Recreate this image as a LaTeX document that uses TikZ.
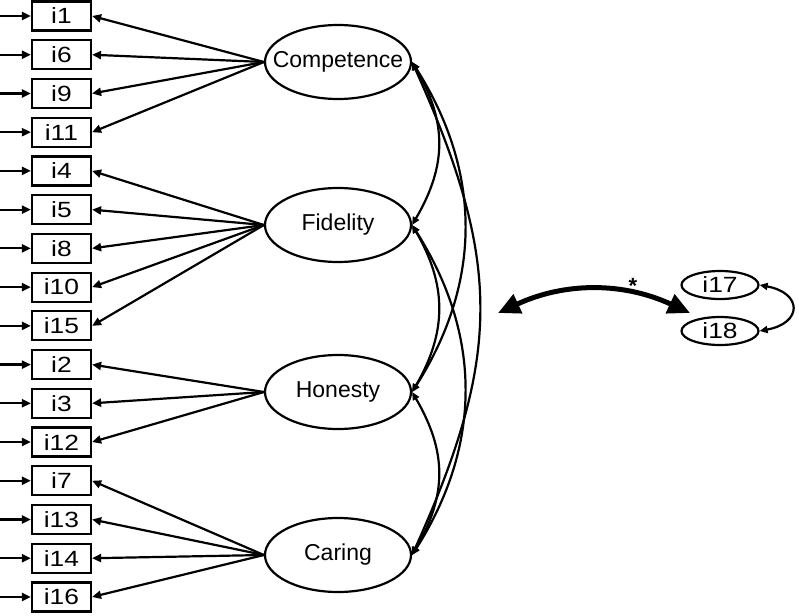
\documentclass[tikz,border=0pt]{standalone}
\usepackage{fontspec}
\setmainfont{Liberation Sans}
\newfontfamily\itemfont[FakeStretch=1.2]{Liberation Sans}
\usetikzlibrary{arrows.meta,shapes.geometric}

\begin{document}
\begin{tikzpicture}[x=1pt, y=-1pt, >={Triangle[length=9pt,width=8pt]}, line width=2.2pt]
% styles
\tikzstyle{item}=[rectangle,draw,minimum width=59pt,minimum height=29pt,inner sep=0pt,font=\itemfont\fontsize{22}{22}\selectfont]
\tikzstyle{factor}=[ellipse,draw,minimum width=146pt,minimum height=74pt,inner xsep=-15pt,inner ysep=0pt,font=\fontsize{23}{23}\selectfont]
\tikzstyle{extra}=[ellipse,draw,minimum width=77pt,minimum height=28pt,inner xsep=-8pt,inner ysep=0pt,font=\itemfont\fontsize{22}{22}\selectfont]
\tikzstyle{cov}=[<->,>={Triangle[length=8pt,width=7pt]}]

\useasboundingbox (0,0) rectangle (799,615);

% observed items with error arrows
\foreach \n [count=\k from 0] in {1,6,9,11,4,5,8,10,15,2,3,12,7,13,14,16} {
  \node[item] (i\n) at (61.5,16+38.73*\k) {i\n};
  \coordinate (e\n) at (0,16+38.73*\k);
  \draw[->] (e\n) -- (i\n.west);
}

% factors
\node[factor] (comp) at (338,62) {Competence};
\node[factor] (fid) at (338,225) {Fidelity};
\node[factor] (hon) at (338,392) {Honesty};
\node[factor] (car) at (338,555) {Caring};

% loadings
\foreach \n in {1,6,9,11}
  \draw[->] (comp.west) -- (i\n.east);
\foreach \n in {4,5,8,10,15}
  \draw[->] (fid.west) -- (i\n.east);
\foreach \n in {2,3,12}
  \draw[->] (hon.west) -- (i\n.east);
\foreach \n in {7,13,14,16}
  \draw[->] (car.west) -- (i\n.east);

% factor covariances
\draw[cov] (comp.east) .. controls +(35,60) and +(35,-60) .. (fid.east);
\draw[cov] (fid.east) .. controls +(35,60) and +(35,-60) .. (hon.east);
\draw[cov] (hon.east) .. controls +(35,60) and +(35,-60) .. (car.east);
\draw[cov] (comp.east) .. controls +(70,110) and +(70,-110) .. (hon.east);
\draw[cov] (fid.east) .. controls +(70,110) and +(70,-110) .. (car.east);
\draw[cov] (comp.east) .. controls +(90,200) and +(90,-200) .. (car.east);

% separate pair
\node[extra] (i17) at (720,285) {i17};
\node[extra] (i18) at (720,331) {i18};
\draw[cov] (i17.east) .. controls +(43,8) and +(43,-8) .. (i18.east);

\coordinate (bl) at (498,313);
\coordinate (br) at (690,313);
\draw[line width=5pt,{Triangle[length=22pt,width=20pt]}-{Triangle[length=22pt,width=20pt]}]
  (bl) .. controls (565,282) and (623,282) .. (br);
\node[font=\fontsize{22}{22}\selectfont\bfseries] (star) at (633,286) {*};
\end{tikzpicture}
\end{document}
